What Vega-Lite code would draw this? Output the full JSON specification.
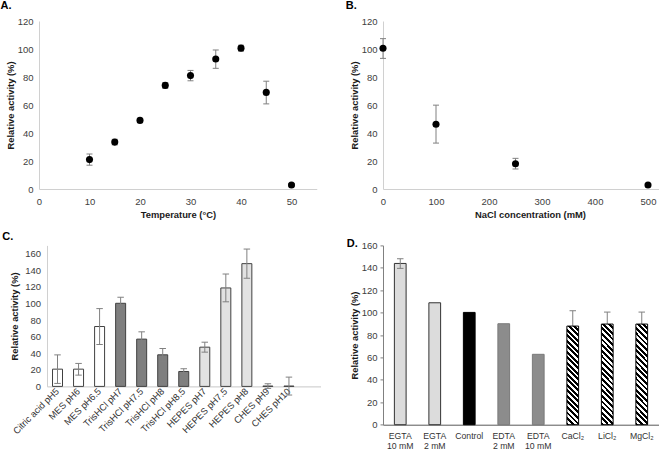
{
  "$schema": "https://vega.github.io/schema/vega-lite/v6.json",
  "padding": 0,
  "background": "white",
  "columns": 2,
  "bounds": "flush",
  "spacing": {"row": 56.4, "column": 62},
  "resolve": {"scale": {"fill": "independent", "stroke": "independent"}},
  "datasets": {
    "temp": [
      {"t": 10, "value": 21, "lo": 17, "hi": 25},
      {"t": 15, "value": 33.5, "lo": 31.5, "hi": 35.5},
      {"t": 20, "value": 49, "lo": 47.5, "hi": 50.5},
      {"t": 25, "value": 74, "lo": 72, "hi": 76},
      {"t": 30, "value": 81, "lo": 77.3, "hi": 84.7},
      {"t": 35, "value": 92.8, "lo": 86.2, "hi": 99.3},
      {"t": 40, "value": 100.6, "lo": 98.5, "hi": 102.7},
      {"t": 45, "value": 69, "lo": 60.8, "hi": 77},
      {"t": 50, "value": 2.9, "lo": 1.9, "hi": 3.9}
    ],
    "nacl": [
      {"c": 0, "value": 100.5, "lo": 93.3, "hi": 107.4},
      {"c": 100, "value": 46.3, "lo": 32.8, "hi": 59.9},
      {"c": 250, "value": 18, "lo": 14.3, "hi": 21.9},
      {"c": 500, "value": 2.9, "lo": 2, "hi": 3.8}
    ],
    "buffer": [
      {"buffer": "Citric acid pH5", "group": "white", "value": 20.8, "lo": 3.6, "hi": 38},
      {"buffer": "MES pH6", "group": "white", "value": 20.8, "lo": 13.6, "hi": 27.7},
      {"buffer": "MES pH6.5", "group": "white", "value": 72.2, "lo": 50.5, "hi": 93.8},
      {"buffer": "TrisHCl pH7", "group": "dark", "value": 100.2, "lo": 93, "hi": 107.5},
      {"buffer": "TrisHCl pH7.5", "group": "dark", "value": 57, "lo": 48, "hi": 65.8},
      {"buffer": "TrisHCl pH8", "group": "dark", "value": 38.1, "lo": 30.5, "hi": 45.7},
      {"buffer": "TrisHCl pH8.5", "group": "dark", "value": 18, "lo": 14.8, "hi": 21.3},
      {"buffer": "HEPES pH7", "group": "light", "value": 47.3, "lo": 41.3, "hi": 53.3},
      {"buffer": "HEPES pH7.5", "group": "light", "value": 118.7, "lo": 102, "hi": 135.5},
      {"buffer": "HEPES pH8", "group": "light", "value": 148, "lo": 130.4, "hi": 165.6},
      {"buffer": "CHES pH9", "group": "white", "value": 0.4, "lo": -2.4, "hi": 3.2},
      {"buffer": "CHES pH10", "group": "white", "value": 0.4, "lo": -10.4, "hi": 11.2}
    ],
    "additive": [
      {"additive": "EGTA 10 mM", "group": "light", "value": 143.9, "lo": 139.5, "hi": 148.1},
      {"additive": "EGTA 2 mM", "group": "light", "value": 108.8, "lo": null, "hi": null},
      {"additive": "Control", "group": "black", "value": 100.2, "lo": null, "hi": null},
      {"additive": "EDTA 2 mM", "group": "mid", "value": 90.1, "lo": null, "hi": null},
      {"additive": "EDTA 10 mM", "group": "mid", "value": 62.8, "lo": null, "hi": null},
      {"additive": "CaCl₂", "group": "hatch", "value": 88, "lo": 74.3, "hi": 101.7},
      {"additive": "LiCl₂", "group": "hatch", "value": 89.8, "lo": 79.1, "hi": 100.5},
      {"additive": "MgCl₂", "group": "hatch", "value": 89.8, "lo": 79.1, "hi": 100.5}
    ]
  },
  "concat": [
    {
      "width": 277.75,
      "height": 168,
      "title": {"text": "A.", "dx": -38.5, "offset": 5},
      "data": {"name": "temp"},
      "encoding": {
        "x": {"field": "t", "type": "quantitative", "scale": {"domain": [0, 55], "nice": false},
          "axis": {"title": "Temperature (°C)", "values": [0, 10, 20, 30, 40, 50], "labelPadding": 7.5, "titlePadding": 4}}
      },
      "layer": [
        {"mark": {"type": "rule", "color": "#808080", "strokeWidth": 1},
          "encoding": {"y": {"field": "lo", "type": "quantitative", "title": "Relative activity (%)", "scale": {"domain": [0, 120], "nice": false},
            "axis": {"values": [0, 20, 40, 60, 80, 100, 120], "titlePadding": 2}}, "y2": {"field": "hi"}}},
        {"mark": {"type": "tick", "orient": "horizontal", "color": "#808080", "size": 6, "thickness": 1, "opacity": 1},
          "encoding": {"y": {"field": "lo", "type": "quantitative", "title": "Relative activity (%)", "axis": {"values": [0, 20, 40, 60, 80, 100, 120], "titlePadding": 2}}}},
        {"mark": {"type": "tick", "orient": "horizontal", "color": "#808080", "size": 6, "thickness": 1, "opacity": 1},
          "encoding": {"y": {"field": "hi", "type": "quantitative", "title": "Relative activity (%)", "axis": {"values": [0, 20, 40, 60, 80, 100, 120], "titlePadding": 2}}}},
        {"mark": {"type": "point", "shape": "circle", "filled": true, "color": "#000000", "size": 50, "opacity": 1},
          "encoding": {"y": {"field": "value", "type": "quantitative", "title": "Relative activity (%)", "axis": {"values": [0, 20, 40, 60, 80, 100, 120], "titlePadding": 2}}}}
      ]
    },
    {
      "width": 275.6,
      "height": 168,
      "title": {"text": "B.", "dx": -37.3, "offset": 5},
      "data": {"name": "nacl"},
      "encoding": {
        "x": {"field": "c", "type": "quantitative", "scale": {"domain": [0, 520], "nice": false},
          "axis": {"title": "NaCl concentration (mM)", "values": [0, 100, 200, 300, 400, 500], "labelPadding": 7.5, "titlePadding": 4, "titleX": 147}}
      },
      "layer": [
        {"mark": {"type": "rule", "color": "#808080", "strokeWidth": 1},
          "encoding": {"y": {"field": "lo", "type": "quantitative", "title": "Relative activity (%)", "scale": {"domain": [0, 120], "nice": false},
            "axis": {"values": [0, 20, 40, 60, 80, 100, 120], "titlePadding": 2}}, "y2": {"field": "hi"}}},
        {"mark": {"type": "tick", "orient": "horizontal", "color": "#808080", "size": 6, "thickness": 1, "opacity": 1},
          "encoding": {"y": {"field": "lo", "type": "quantitative", "title": "Relative activity (%)", "axis": {"values": [0, 20, 40, 60, 80, 100, 120], "titlePadding": 2}}}},
        {"mark": {"type": "tick", "orient": "horizontal", "color": "#808080", "size": 6, "thickness": 1, "opacity": 1},
          "encoding": {"y": {"field": "hi", "type": "quantitative", "title": "Relative activity (%)", "axis": {"values": [0, 20, 40, 60, 80, 100, 120], "titlePadding": 2}}}},
        {"mark": {"type": "point", "shape": "circle", "filled": true, "color": "#000000", "size": 50, "opacity": 1},
          "encoding": {"y": {"field": "value", "type": "quantitative", "title": "Relative activity (%)", "axis": {"values": [0, 20, 40, 60, 80, 100, 120], "titlePadding": 2}}}}
      ]
    },
    {
      "width": 281.5,
      "height": 141,
      "title": {"text": "C.", "dx": -36.8, "offset": 3},
      "data": {"name": "buffer"},
      "encoding": {
        "x": {"field": "buffer", "type": "nominal",
          "scale": {"domain": ["Citric acid pH5", "MES pH6", "MES pH6.5", "TrisHCl pH7", "TrisHCl pH7.5", "TrisHCl pH8", "TrisHCl pH8.5", "HEPES pH7", "HEPES pH7.5", "HEPES pH8", "CHES pH9", "CHES pH10"],
            "range": [8, 281.5], "paddingInner": 0.525, "paddingOuter": 0.7625, "align": 0.172},
          "axis": {"title": null, "labelAngle": -45, "labelAlign": "right", "labelBaseline": "middle", "labelFontSize": 9.3, "labelColor": "#333333", "labelPadding": 3, "domainColor": "#c8c8c8"}}
      },
      "layer": [
        {"mark": {"type": "bar", "stroke": "#404040", "strokeWidth": 1},
          "encoding": {
            "y": {"field": "value", "type": "quantitative", "title": "Relative activity (%)", "scale": {"domain": [0, 170], "nice": false},
              "axis": {"values": [0, 20, 40, 60, 80, 100, 120, 140, 160], "offset": -8, "labelPadding": 6.5, "titlePadding": 5}},
            "fill": {"field": "group", "type": "nominal", "scale": {"domain": ["white", "dark", "light"], "range": ["#ffffff", "#7f7f7f", "#e2e2e2"]}, "legend": null}
          }},
        {"mark": {"type": "rule", "color": "#808080", "strokeWidth": 1},
          "encoding": {"y": {"field": "lo", "type": "quantitative", "title": "Relative activity (%)", "axis": {"values": [0, 20, 40, 60, 80, 100, 120, 140, 160], "offset": -8, "labelPadding": 6.5, "titlePadding": 5}}, "y2": {"field": "hi"}}},
        {"mark": {"type": "tick", "orient": "horizontal", "color": "#808080", "size": 6.5, "thickness": 1, "opacity": 1},
          "encoding": {"y": {"field": "lo", "type": "quantitative", "title": "Relative activity (%)", "axis": {"values": [0, 20, 40, 60, 80, 100, 120, 140, 160], "offset": -8, "labelPadding": 6.5, "titlePadding": 5}}}},
        {"mark": {"type": "tick", "orient": "horizontal", "color": "#808080", "size": 6.5, "thickness": 1, "opacity": 1},
          "encoding": {"y": {"field": "hi", "type": "quantitative", "title": "Relative activity (%)", "axis": {"values": [0, 20, 40, 60, 80, 100, 120, 140, 160], "offset": -8, "labelPadding": 6.5, "titlePadding": 5}}}}
      ]
    },
    {
      "width": 276,
      "height": 179.3,
      "title": {"text": "D.", "dx": -36.3, "offset": 0, "dy": 9},
      "data": {"name": "additive"},
      "encoding": {
        "x": {"field": "additive", "type": "nominal",
          "scale": {"domain": ["EGTA 10 mM", "EGTA 2 mM", "Control", "EDTA 2 mM", "EDTA 10 mM", "CaCl₂", "LiCl₂", "MgCl₂"],
            "paddingInner": 0.66, "paddingOuter": 0.33},
          "axis": {"title": null, "labelAngle": 0, "labelAlign": "center", "labelBaseline": "top", "labelFontSize": 8.7, "labelColor": "#333333", "labelPadding": 7, "labelLineHeight": 10.3, "domainColor": "#595959",
            "labelExpr": "indexof(datum.label, ' ') > 0 ? [slice(datum.label, 0, indexof(datum.label, ' ')), slice(datum.label, indexof(datum.label, ' ') + 1)] : datum.label"}}
      },
      "layer": [
        {"transform": [{"filter": "datum.group !== 'hatch'"}],
          "mark": {"type": "bar", "strokeWidth": 1},
          "encoding": {
            "y": {"field": "value", "type": "quantitative", "title": "Relative activity (%)", "scale": {"domain": [0, 160], "nice": false},
              "axis": {"values": [0, 20, 40, 60, 80, 100, 120, 140, 160], "ticks": true, "tickSize": 3, "tickColor": "#808080", "domainColor": "#808080", "labelPadding": 3, "titlePadding": 2}},
            "fill": {"field": "group", "type": "nominal", "scale": {"domain": ["light", "black", "mid"], "range": ["#dcdcdc", "#000000", "#8c8c8c"]}, "legend": null},
            "stroke": {"field": "group", "type": "nominal", "scale": {"domain": ["light", "black", "mid"], "range": ["#333333", "#000000", "#7a7a7a"]}, "legend": null}
          }},
        {"transform": [{"filter": "datum.hi != null"}],
          "mark": {"type": "rule", "color": "#808080", "strokeWidth": 1},
          "encoding": {"y": {"field": "lo", "type": "quantitative", "title": "Relative activity (%)", "axis": {"values": [0, 20, 40, 60, 80, 100, 120, 140, 160], "ticks": true, "tickSize": 3, "tickColor": "#808080", "domainColor": "#808080", "labelPadding": 3, "titlePadding": 2}}, "y2": {"field": "hi"}}},
        {"transform": [{"filter": "datum.hi != null"}],
          "mark": {"type": "tick", "orient": "horizontal", "color": "#808080", "size": 6.5, "thickness": 1, "opacity": 1},
          "encoding": {"y": {"field": "lo", "type": "quantitative", "title": "Relative activity (%)", "axis": {"values": [0, 20, 40, 60, 80, 100, 120, 140, 160], "ticks": true, "tickSize": 3, "tickColor": "#808080", "domainColor": "#808080", "labelPadding": 3, "titlePadding": 2}}}},
        {"transform": [{"filter": "datum.hi != null"}],
          "mark": {"type": "tick", "orient": "horizontal", "color": "#808080", "size": 6.5, "thickness": 1, "opacity": 1},
          "encoding": {"y": {"field": "hi", "type": "quantitative", "title": "Relative activity (%)", "axis": {"values": [0, 20, 40, 60, 80, 100, 120, 140, 160], "ticks": true, "tickSize": 3, "tickColor": "#808080", "domainColor": "#808080", "labelPadding": 3, "titlePadding": 2}}}},
        {"transform": [{"filter": "datum.group === 'hatch'"}],
          "mark": {"type": "bar", "stroke": "#000000", "strokeWidth": 1,
            "fill": {"gradient": "linear", "x1": 0, "y1": 1, "x2": 0.131, "y2": -0.103,
              "stops": [
                {"offset": 0, "color": "#000000"}, {"offset": 0.025, "color": "#000000"}, {"offset": 0.025, "color": "#ffffff"}, {"offset": 0.05, "color": "#ffffff"},
                {"offset": 0.05, "color": "#000000"}, {"offset": 0.075, "color": "#000000"}, {"offset": 0.075, "color": "#ffffff"}, {"offset": 0.1, "color": "#ffffff"},
                {"offset": 0.1, "color": "#000000"}, {"offset": 0.125, "color": "#000000"}, {"offset": 0.125, "color": "#ffffff"}, {"offset": 0.15, "color": "#ffffff"},
                {"offset": 0.15, "color": "#000000"}, {"offset": 0.175, "color": "#000000"}, {"offset": 0.175, "color": "#ffffff"}, {"offset": 0.2, "color": "#ffffff"},
                {"offset": 0.2, "color": "#000000"}, {"offset": 0.225, "color": "#000000"}, {"offset": 0.225, "color": "#ffffff"}, {"offset": 0.25, "color": "#ffffff"},
                {"offset": 0.25, "color": "#000000"}, {"offset": 0.275, "color": "#000000"}, {"offset": 0.275, "color": "#ffffff"}, {"offset": 0.3, "color": "#ffffff"},
                {"offset": 0.3, "color": "#000000"}, {"offset": 0.325, "color": "#000000"}, {"offset": 0.325, "color": "#ffffff"}, {"offset": 0.35, "color": "#ffffff"},
                {"offset": 0.35, "color": "#000000"}, {"offset": 0.375, "color": "#000000"}, {"offset": 0.375, "color": "#ffffff"}, {"offset": 0.4, "color": "#ffffff"},
                {"offset": 0.4, "color": "#000000"}, {"offset": 0.425, "color": "#000000"}, {"offset": 0.425, "color": "#ffffff"}, {"offset": 0.45, "color": "#ffffff"},
                {"offset": 0.45, "color": "#000000"}, {"offset": 0.475, "color": "#000000"}, {"offset": 0.475, "color": "#ffffff"}, {"offset": 0.5, "color": "#ffffff"},
                {"offset": 0.5, "color": "#000000"}, {"offset": 0.525, "color": "#000000"}, {"offset": 0.525, "color": "#ffffff"}, {"offset": 0.55, "color": "#ffffff"},
                {"offset": 0.55, "color": "#000000"}, {"offset": 0.575, "color": "#000000"}, {"offset": 0.575, "color": "#ffffff"}, {"offset": 0.6, "color": "#ffffff"},
                {"offset": 0.6, "color": "#000000"}, {"offset": 0.625, "color": "#000000"}, {"offset": 0.625, "color": "#ffffff"}, {"offset": 0.65, "color": "#ffffff"},
                {"offset": 0.65, "color": "#000000"}, {"offset": 0.675, "color": "#000000"}, {"offset": 0.675, "color": "#ffffff"}, {"offset": 0.7, "color": "#ffffff"},
                {"offset": 0.7, "color": "#000000"}, {"offset": 0.725, "color": "#000000"}, {"offset": 0.725, "color": "#ffffff"}, {"offset": 0.75, "color": "#ffffff"},
                {"offset": 0.75, "color": "#000000"}, {"offset": 0.775, "color": "#000000"}, {"offset": 0.775, "color": "#ffffff"}, {"offset": 0.8, "color": "#ffffff"},
                {"offset": 0.8, "color": "#000000"}, {"offset": 0.825, "color": "#000000"}, {"offset": 0.825, "color": "#ffffff"}, {"offset": 0.85, "color": "#ffffff"},
                {"offset": 0.85, "color": "#000000"}, {"offset": 0.875, "color": "#000000"}, {"offset": 0.875, "color": "#ffffff"}, {"offset": 0.9, "color": "#ffffff"},
                {"offset": 0.9, "color": "#000000"}, {"offset": 0.925, "color": "#000000"}, {"offset": 0.925, "color": "#ffffff"}, {"offset": 0.95, "color": "#ffffff"},
                {"offset": 0.95, "color": "#000000"}, {"offset": 0.975, "color": "#000000"}, {"offset": 0.975, "color": "#ffffff"}, {"offset": 1, "color": "#ffffff"}
              ]}},
          "encoding": {"y": {"field": "value", "type": "quantitative", "title": "Relative activity (%)", "axis": {"values": [0, 20, 40, 60, 80, 100, 120, 140, 160], "ticks": true, "tickSize": 3, "tickColor": "#808080", "domainColor": "#808080", "labelPadding": 3, "titlePadding": 2}}}}
      ]
    }
  ],
  "config": {
    "view": {"stroke": null},
    "font": "Liberation Sans",
    "axis": {
      "grid": false,
      "ticks": false,
      "labelFlush": false,
      "labelOverlap": false,
      "labelFont": "Liberation Sans",
      "labelFontSize": 9.5,
      "labelColor": "#404040",
      "labelPadding": 6,
      "titleFont": "Liberation Sans",
      "titleFontSize": 9.4,
      "titleFontWeight": "bold",
      "titleColor": "#1a1a1a",
      "domainColor": "#d0d0d0",
      "domainWidth": 1
    },
    "title": {"font": "Liberation Sans", "fontSize": 11, "fontWeight": "bold", "anchor": "start", "frame": "group", "color": "#000000"}
  }
}
